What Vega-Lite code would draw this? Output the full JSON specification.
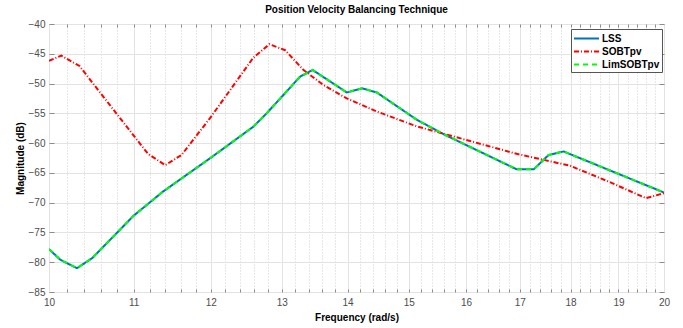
{
  "$schema": "https://vega.github.io/schema/vega-lite/v6.json",
  "width": 615,
  "height": 268,
  "autosize": {"type": "none"},
  "padding": {"left": 49, "right": 19, "top": 24, "bottom": 36},
  "background": "white",
  "title": {"text": "Position Velocity Balancing Technique", "font": "Liberation Sans", "fontSize": 10, "fontWeight": "bold", "color": "#000000", "anchor": "middle", "offset": 4},
  "config": {
    "view": {"stroke": "#8c8c8c", "strokeWidth": 1},
    "font": "Liberation Sans"
  },
  "data": {
    "values": [
      {"series": "LSS", "freq": 10.0, "db": -77.8},
      {"series": "LSS", "freq": 10.13, "db": -79.6},
      {"series": "LSS", "freq": 10.32, "db": -81.0},
      {"series": "LSS", "freq": 10.5, "db": -79.3},
      {"series": "LSS", "freq": 11.0, "db": -72.2},
      {"series": "LSS", "freq": 11.37, "db": -68.15},
      {"series": "LSS", "freq": 11.99, "db": -62.55},
      {"series": "LSS", "freq": 12.59, "db": -57.24},
      {"series": "LSS", "freq": 12.78, "db": -55.0},
      {"series": "LSS", "freq": 13.27, "db": -48.85},
      {"series": "LSS", "freq": 13.46, "db": -47.72},
      {"series": "LSS", "freq": 13.99, "db": -51.5},
      {"series": "LSS", "freq": 14.23, "db": -50.8},
      {"series": "LSS", "freq": 14.47, "db": -51.5},
      {"series": "LSS", "freq": 15.14, "db": -56.1},
      {"series": "LSS", "freq": 15.6, "db": -58.5},
      {"series": "LSS", "freq": 16.94, "db": -64.4},
      {"series": "LSS", "freq": 17.27, "db": -64.4},
      {"series": "LSS", "freq": 17.56, "db": -62.0},
      {"series": "LSS", "freq": 17.86, "db": -61.4},
      {"series": "LSS", "freq": 20.0, "db": -68.3},
      {"series": "SOBTpv", "freq": 10.0, "db": -46.2},
      {"series": "SOBTpv", "freq": 10.14, "db": -45.3},
      {"series": "SOBTpv", "freq": 10.35, "db": -47.05},
      {"series": "SOBTpv", "freq": 10.57, "db": -51.1},
      {"series": "SOBTpv", "freq": 11.18, "db": -61.8},
      {"series": "SOBTpv", "freq": 11.4, "db": -63.7},
      {"series": "SOBTpv", "freq": 11.61, "db": -62.0},
      {"series": "SOBTpv", "freq": 11.99, "db": -55.8},
      {"series": "SOBTpv", "freq": 12.59, "db": -45.65},
      {"series": "SOBTpv", "freq": 12.82, "db": -43.4},
      {"series": "SOBTpv", "freq": 13.05, "db": -44.4},
      {"series": "SOBTpv", "freq": 13.32, "db": -47.7},
      {"series": "SOBTpv", "freq": 13.62, "db": -50.2},
      {"series": "SOBTpv", "freq": 13.99, "db": -52.5},
      {"series": "SOBTpv", "freq": 14.23, "db": -53.6},
      {"series": "SOBTpv", "freq": 14.47, "db": -54.7},
      {"series": "SOBTpv", "freq": 15.14, "db": -57.2},
      {"series": "SOBTpv", "freq": 15.63, "db": -58.5},
      {"series": "SOBTpv", "freq": 16.94, "db": -61.8},
      {"series": "SOBTpv", "freq": 17.99, "db": -63.8},
      {"series": "SOBTpv", "freq": 18.8, "db": -66.5},
      {"series": "SOBTpv", "freq": 19.6, "db": -69.25},
      {"series": "SOBTpv", "freq": 20.0, "db": -68.4},
      {"series": "LimSOBTpv", "freq": 10.0, "db": -77.8},
      {"series": "LimSOBTpv", "freq": 10.13, "db": -79.6},
      {"series": "LimSOBTpv", "freq": 10.32, "db": -81.0},
      {"series": "LimSOBTpv", "freq": 10.5, "db": -79.3},
      {"series": "LimSOBTpv", "freq": 11.0, "db": -72.2},
      {"series": "LimSOBTpv", "freq": 11.37, "db": -68.15},
      {"series": "LimSOBTpv", "freq": 11.99, "db": -62.55},
      {"series": "LimSOBTpv", "freq": 12.59, "db": -57.24},
      {"series": "LimSOBTpv", "freq": 12.78, "db": -55.0},
      {"series": "LimSOBTpv", "freq": 13.27, "db": -48.85},
      {"series": "LimSOBTpv", "freq": 13.46, "db": -47.72},
      {"series": "LimSOBTpv", "freq": 13.99, "db": -51.5},
      {"series": "LimSOBTpv", "freq": 14.23, "db": -50.8},
      {"series": "LimSOBTpv", "freq": 14.47, "db": -51.5},
      {"series": "LimSOBTpv", "freq": 15.14, "db": -56.1},
      {"series": "LimSOBTpv", "freq": 15.6, "db": -58.5},
      {"series": "LimSOBTpv", "freq": 16.94, "db": -64.4},
      {"series": "LimSOBTpv", "freq": 17.27, "db": -64.4},
      {"series": "LimSOBTpv", "freq": 17.56, "db": -62.0},
      {"series": "LimSOBTpv", "freq": 17.86, "db": -61.4},
      {"series": "LimSOBTpv", "freq": 20.0, "db": -68.3}
    ]
  },
  "layer": [
    {
      "mark": {"type": "line", "opacity": 0},
      "encoding": {
        "x": {"field": "freq", "type": "quantitative", "scale": {"type": "log", "domain": [10, 20]},
          "axis": {"orient": "bottom", "values": [10.2,10.4,10.6,10.8,11,11.2,11.4,11.6,11.8,12,12.2,12.4,12.6,12.8,13,13.2,13.4,13.6,13.8,14,14.2,14.4,14.6,14.8,15,15.2,15.4,15.6,15.8,16,16.2,16.4,16.6,16.8,17,17.2,17.4,17.6,17.8,18,18.2,18.4,18.6,18.8,19,19.2,19.4,19.6,19.8],
            "labels": false, "title": null, "domain": false, "grid": true, "gridColor": "#cfcfcf", "gridDash": [1, 2], "gridWidth": 1, "ticks": true, "tickSize": -3, "tickColor": "#8c8c8c"}},
        "y": {"field": "db", "type": "quantitative", "scale": {"domain": [-85, -40]},
          "axis": {"orient": "right", "values": [-85,-80,-75,-70,-65,-60,-55,-50,-45,-40], "labels": false, "title": null, "domain": false, "grid": false, "ticks": true, "tickSize": -5, "tickColor": "#8c8c8c"}}
      }
    },
    {
      "mark": {"type": "line", "opacity": 0},
      "encoding": {
        "x": {"field": "freq", "type": "quantitative", "scale": {"type": "log", "domain": [10, 20]},
          "axis": {"orient": "top", "values": [10.2,10.4,10.6,10.8,11,11.2,11.4,11.6,11.8,12,12.2,12.4,12.6,12.8,13,13.2,13.4,13.6,13.8,14,14.2,14.4,14.6,14.8,15,15.2,15.4,15.6,15.8,16,16.2,16.4,16.6,16.8,17,17.2,17.4,17.6,17.8,18,18.2,18.4,18.6,18.8,19,19.2,19.4,19.6,19.8],
            "labels": false, "title": null, "domain": false, "grid": false, "ticks": true, "tickSize": -3, "tickColor": "#8c8c8c"}},
        "y": {"field": "db", "type": "quantitative", "scale": {"domain": [-85, -40]},
          "axis": {"orient": "left", "values": [-85,-80,-75,-70,-65,-60,-55,-50,-45,-40], "labels": false, "title": null, "domain": false, "grid": false, "ticks": true, "tickSize": -5, "tickColor": "#8c8c8c"}}
      }
    },
    {
      "mark": {"type": "line", "strokeWidth": 2, "clip": true},
      "encoding": {
        "x": {"field": "freq", "type": "quantitative", "scale": {"type": "log", "domain": [10, 20]},
          "axis": {"orient": "bottom", "values": [10,11,12,13,14,15,16,17,18,19,20], "format": "d", "title": "Frequency  (rad/s)",
            "labelFont": "Liberation Sans", "labelFontSize": 10, "labelColor": "#4d4d4d", "labelPadding": 5, "labelFlush": false,
            "titleFont": "Liberation Sans", "titleFontSize": 10, "titleFontWeight": "bold", "titleColor": "#000000", "titlePadding": 5,
            "domain": false, "ticks": false, "grid": true, "gridColor": "#e3e3e3", "gridWidth": 1}},
        "y": {"field": "db", "type": "quantitative", "scale": {"domain": [-85, -40]},
          "axis": {"orient": "left", "values": [-85,-80,-75,-70,-65,-60,-55,-50,-45,-40], "title": "Magnitude (dB)",
            "labelFont": "Liberation Sans", "labelFontSize": 10, "labelColor": "#4d4d4d", "labelPadding": 4,
            "titleFont": "Liberation Sans", "titleFontSize": 10, "titleFontWeight": "bold", "titleColor": "#000000", "titlePadding": 3,
            "domain": false, "ticks": false, "grid": true, "gridColor": "#e3e3e3", "gridWidth": 1}},
        "color": {"field": "series", "type": "nominal",
          "scale": {"domain": ["LSS", "SOBTpv", "LimSOBTpv"], "range": ["#0072BD", "#FF0000", "#00FF00"]},
          "legend": {"orient": "none", "legendX": 522, "legendY": 5, "title": null, "fillColor": "white", "strokeColor": "#555555",
            "padding": 2, "symbolType": "M-2,0H2", "symbolSize": 156, "symbolStrokeWidth": 2, "symbolOffset": 6,
            "labelFont": "Liberation Sans", "labelFontSize": 10, "labelFontWeight": "bold", "labelColor": "#000000", "labelOffset": 8, "rowPadding": 0}},
        "strokeDash": {"field": "series", "type": "nominal",
          "scale": {"domain": ["LSS", "SOBTpv", "LimSOBTpv"], "range": [[1, 0], [5, 2, 1, 2], [5, 4]]},
          "legend": {"orient": "none", "legendX": 522, "legendY": 5, "title": null, "fillColor": "white", "strokeColor": "#555555",
            "padding": 2, "symbolType": "M-2,0H2", "symbolSize": 156, "symbolStrokeWidth": 2, "symbolOffset": 6,
            "labelFont": "Liberation Sans", "labelFontSize": 10, "labelFontWeight": "bold", "labelColor": "#000000", "labelOffset": 8, "rowPadding": 0}}
      }
    }
  ],
  "resolve": {"axis": {"x": "independent", "y": "independent"}}
}
